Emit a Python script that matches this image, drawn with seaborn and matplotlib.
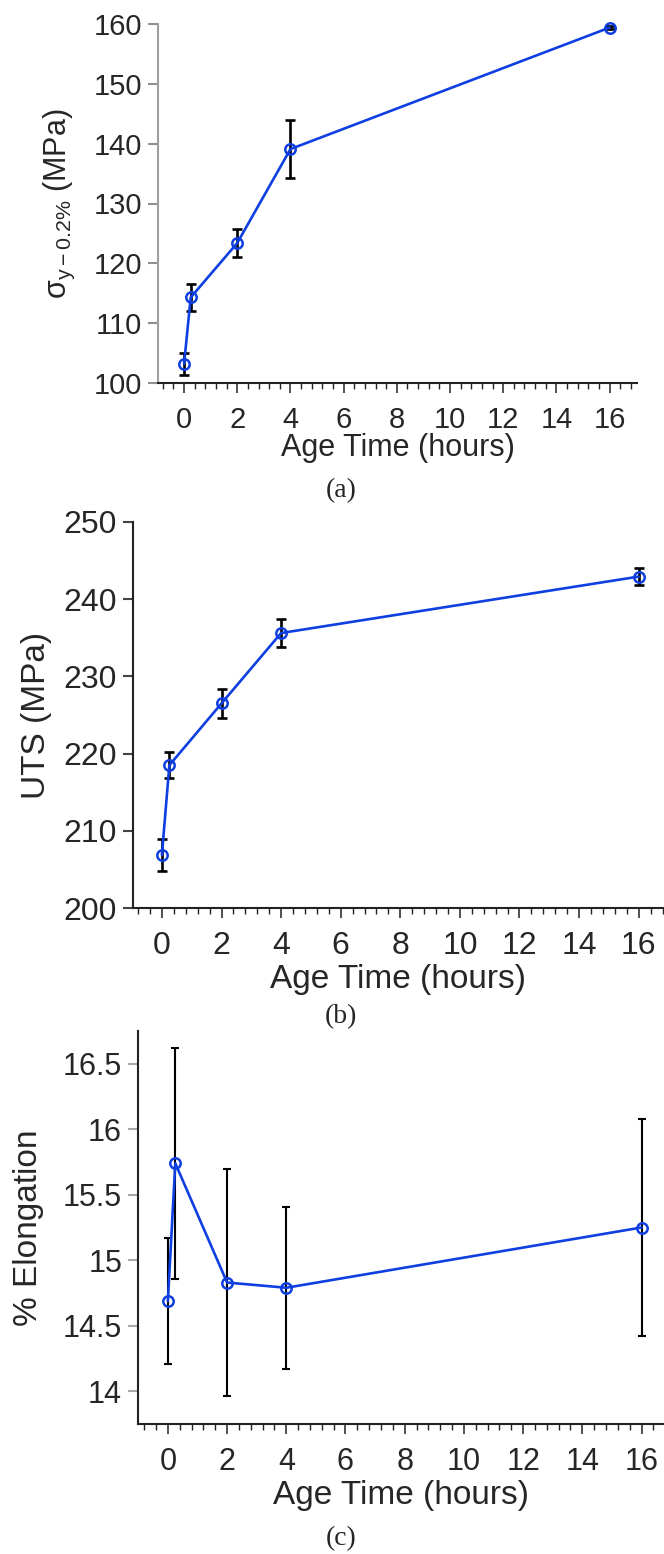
import matplotlib
matplotlib.use("Agg")
import matplotlib.pyplot as plt
import seaborn as sns
import numpy as np
from matplotlib.ticker import MultipleLocator, FormatStrFormatter

# ---------------- data ----------------
age_hours = [0, 0.25, 2, 4, 16]

yield_mpa = [103.2, 114.3, 123.4, 139.1, 159.4]
yield_err = [1.8, 2.3, 2.4, 4.9, 0.3]

uts_mpa = [206.9, 218.5, 226.5, 235.6, 242.9]
uts_err = [2.1, 1.7, 1.9, 1.8, 1.1]

elong_pct = [14.69, 15.74, 14.83, 14.79, 15.25]
elong_err = [0.48, 0.88, 0.87, 0.62, 0.83]

x_ticks = [0, 2, 4, 6, 8, 10, 12, 14, 16]
yield_ticks = [100, 110, 120, 130, 140, 150, 160]
uts_ticks = [200, 210, 220, 230, 240, 250]
elong_ticks = [14, 14.5, 15, 15.5, 16, 16.5]

x_label = "Age Time (hours)"
yield_label = r"$\sigma_{y-0.2\%}$ (MPa)"
uts_label = "UTS (MPa)"
elong_label = "% Elongation"
panel_tags = ["(a)", "(b)", "(c)"]

# ---------------- style ----------------
sns.set_style("ticks")
plt.rcParams["font.family"] = ["Liberation Sans", "DejaVu Sans"]
plt.rcParams["mathtext.fontset"] = "custom"
plt.rcParams["mathtext.rm"] = "Liberation Sans"
plt.rcParams["mathtext.it"] = "Liberation Sans"
plt.rcParams["mathtext.default"] = "regular"

LINE_C = "#0f3fe0"
W, H = 664, 1554
fig = plt.figure(figsize=(W / 100, H / 100), dpi=100)


def px_axes(left, right, top, bottom):
    return fig.add_axes([left / W, 1 - bottom / H, (right - left) / W, (bottom - top) / H])


def draw(ax, y, err, xlim, ylim, yticks, ylabel, tick_fs, lab_fs, ylab_x, xlab_y,
         ecap, elw, y_spine_c, y_tick_c, fmt=None):
    ax.errorbar(age_hours, y, yerr=err, fmt="none", ecolor="black",
                elinewidth=elw, capsize=ecap, capthick=elw, zorder=2)
    sns.lineplot(x=age_hours, y=y, ax=ax, color=LINE_C, linewidth=1.9,
                 marker="o", markersize=7.5, markerfacecolor="none",
                 markeredgecolor=LINE_C, markeredgewidth=1.8, zorder=3,
                 clip_on=False)
    ax.set_xlim(*xlim)
    ax.set_ylim(*ylim)
    ax.set_xticks(x_ticks)
    ax.set_yticks(yticks)
    if fmt:
        ax.yaxis.set_major_formatter(FormatStrFormatter(fmt))
    ax.xaxis.set_minor_locator(MultipleLocator(0.4))
    sns.despine(ax=ax)
    ax.spines["left"].set_color(y_spine_c)
    ax.spines["left"].set_linewidth(1.5)
    ax.spines["bottom"].set_color("#222222")
    ax.spines["bottom"].set_linewidth(1.5)
    ax.tick_params(axis="x", which="major", length=7.5, width=1.1, color="#222222",
                   labelsize=tick_fs, pad=9)
    ax.tick_params(axis="x", which="minor", length=4, width=1.0, color="#222222")
    ax.tick_params(axis="y", which="major", length=7.5, width=1.5, color=y_tick_c,
                   labelsize=tick_fs, pad=4)
    ax.set_xlabel(x_label, fontsize=lab_fs)
    ax.set_ylabel(ylabel, fontsize=lab_fs)
    ax.xaxis.label.set_verticalalignment("center")
    ax.yaxis.label.set_verticalalignment("center")
    ax.xaxis.set_label_coords(0.5, xlab_y)
    ax.yaxis.set_label_coords(ylab_x, 0.5)
    ax.grid(False)


# Panel (a)
ax1 = px_axes(158, 637, 24, 383)
draw(ax1, yield_mpa, yield_err, (-0.98, 17.03), (100, 160), yield_ticks, yield_label,
     tick_fs=21, lab_fs=22, ylab_x=-0.205, xlab_y=-0.181, ecap=3.6, elw=1.9,
     y_spine_c="#a0a0a0", y_tick_c="#909090")

# Panel (b)
ax2 = px_axes(133, 664, 521.7, 908.3)
draw(ax2, uts_mpa, uts_err, (-0.97, 16.85), (200, 250), uts_ticks, uts_label,
     tick_fs=23, lab_fs=24, ylab_x=-0.181, xlab_y=-0.185, ecap=3.6, elw=1.9,
     y_spine_c="#222222", y_tick_c="#444444")

# Panel (c)
ax3 = px_axes(138, 664, 1031, 1424)
draw(ax3, elong_pct, elong_err, (-1.01, 16.76), (13.75, 16.75), elong_ticks, elong_label,
     tick_fs=22, lab_fs=24, ylab_x=-0.208, xlab_y=-0.181, ecap=2.9, elw=1.5,
     y_spine_c="#222222", y_tick_c="#a8a8a8", fmt="%g")

# panel tags
for tag, ypx in zip(panel_tags, [491, 1017, 1539]):
    fig.text(341 / W, 1 - ypx / H, tag, ha="center", va="center", fontsize=20,
             family=["Liberation Serif", "DejaVu Serif"])

fig.savefig("out.png", dpi=100)
